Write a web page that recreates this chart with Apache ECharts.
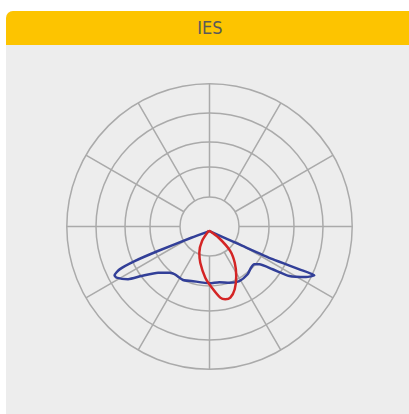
<!DOCTYPE html>
<html>
<head>
<meta charset="utf-8">
<script src="https://cdn.jsdelivr.net/npm/echarts@6/dist/echarts.min.js"></script>
<style>
  html, body { margin: 0; padding: 0; background: #ffffff; width: 409px; height: 414px; overflow: hidden; }
  #card { position: absolute; left: 6px; top: 11px; width: 408px; height: 420px; background: #ededed; border-top-left-radius: 7px; overflow: hidden; }
  #head { height: 34px; background: #fdc400; color: #595959; font-family: "Liberation Sans Narrow", "DejaVu Sans Condensed", Roboto, sans-serif; font-size: 18px; line-height: 34px; text-align: center; }
  #chart { position: absolute; left: 0; top: 0; width: 409px; height: 414px; }
</style>
</head>
<body>
<div id="card"><div id="head">IES</div></div>
<div id="chart"></div>
<script>
// Intensity values (cd) and vertical angles (deg, 0 = nadir, + = right side), closed outlines
const blueR = [16, 122, 249, 349, 405, 382, 329, 267, 219, 205, 205, 214, 218, 209, 198, 199, 201, 209, 207, 214, 242, 295, 340, 372, 374, 349, 289, 200, 75, 16];
const blueA = [0, 59, 62.6, 64.5, 65, 62.4, 58.2, 55.9, 52.8, 49.8, 45.2, 38.6, 28.7, 19.4, 10, 0, -18.5, -26.3, -36.1, -40.7, -48.1, -54, -57.1, -61.2, -62.8, -64.5, -65.2, -64.6, -58.4, 0];
const redR = [14, 51, 112, 155, 197, 237, 260, 261, 252, 215, 180, 131, 98, 57, 14];
const redA = [-8, 39.4, 40.3, 34.8, 28.4, 21.9, 16.3, 12.2, 8.6, 2.3, -4.7, -14.3, -21.3, -27.3, -8];
const radiusMax = 500;
const ringRadii = [29.5, 59.5, 84.5, 113.5, 142.7]; // grid circle radii (px)
const spokeStep = 30;

const center = [209.5, 226.5];
const gridColor = '#aaaaaa';
const polars = [], radiusAxes = [], angleAxes = [];
// data polar (index 0)
polars.push({ center: center, radius: ringRadii[4] });
radiusAxes.push({ polarIndex: 0, min: 0, max: radiusMax, show: false });
angleAxes.push({ polarIndex: 0, min: -180, max: 180, startAngle: 90, clockwise: false, show: false });
// ring circles
ringRadii.forEach((r, i) => {
  const idx = polars.length;
  polars.push({ center: center, radius: r });
  radiusAxes.push({ polarIndex: idx, show: false });
  angleAxes.push({ polarIndex: idx, min: 0, max: 360, show: true, axisLine: { show: true, lineStyle: { color: gridColor, width: 1.5 } }, axisTick: { show: false }, axisLabel: { show: false }, splitLine: { show: false } });
});
// spokes
{
  const idx = polars.length;
  polars.push({ center: center, radius: [ringRadii[0], ringRadii[4]] });
  radiusAxes.push({ polarIndex: idx, show: false });
  angleAxes.push({ polarIndex: idx, min: 0, max: 360, interval: spokeStep, startAngle: 90, axisLine: { show: false }, axisTick: { show: false }, axisLabel: { show: false }, splitLine: { show: true, lineStyle: { color: gridColor, width: 1.5 } } });
}

const chart = echarts.init(document.getElementById('chart'), null, { renderer: 'canvas' });
chart.setOption({
  animation: false,
  backgroundColor: 'transparent',
  polar: polars,
  radiusAxis: radiusAxes,
  angleAxis: angleAxes,
  series: [
    { type: 'line', coordinateSystem: 'polar', polarIndex: 0, symbol: 'none', smooth: 0.2, z: 5,
      lineStyle: { color: '#323f98', width: 2.5 }, data: blueR.map((r, i) => [r, blueA[i]]) },
    { type: 'line', coordinateSystem: 'polar', polarIndex: 0, symbol: 'none', smooth: 0.3, z: 6,
      lineStyle: { color: '#d42525', width: 2.5 }, data: redR.map((r, i) => [r, redA[i]]) }
  ]
});
</script>
</body>
</html>
